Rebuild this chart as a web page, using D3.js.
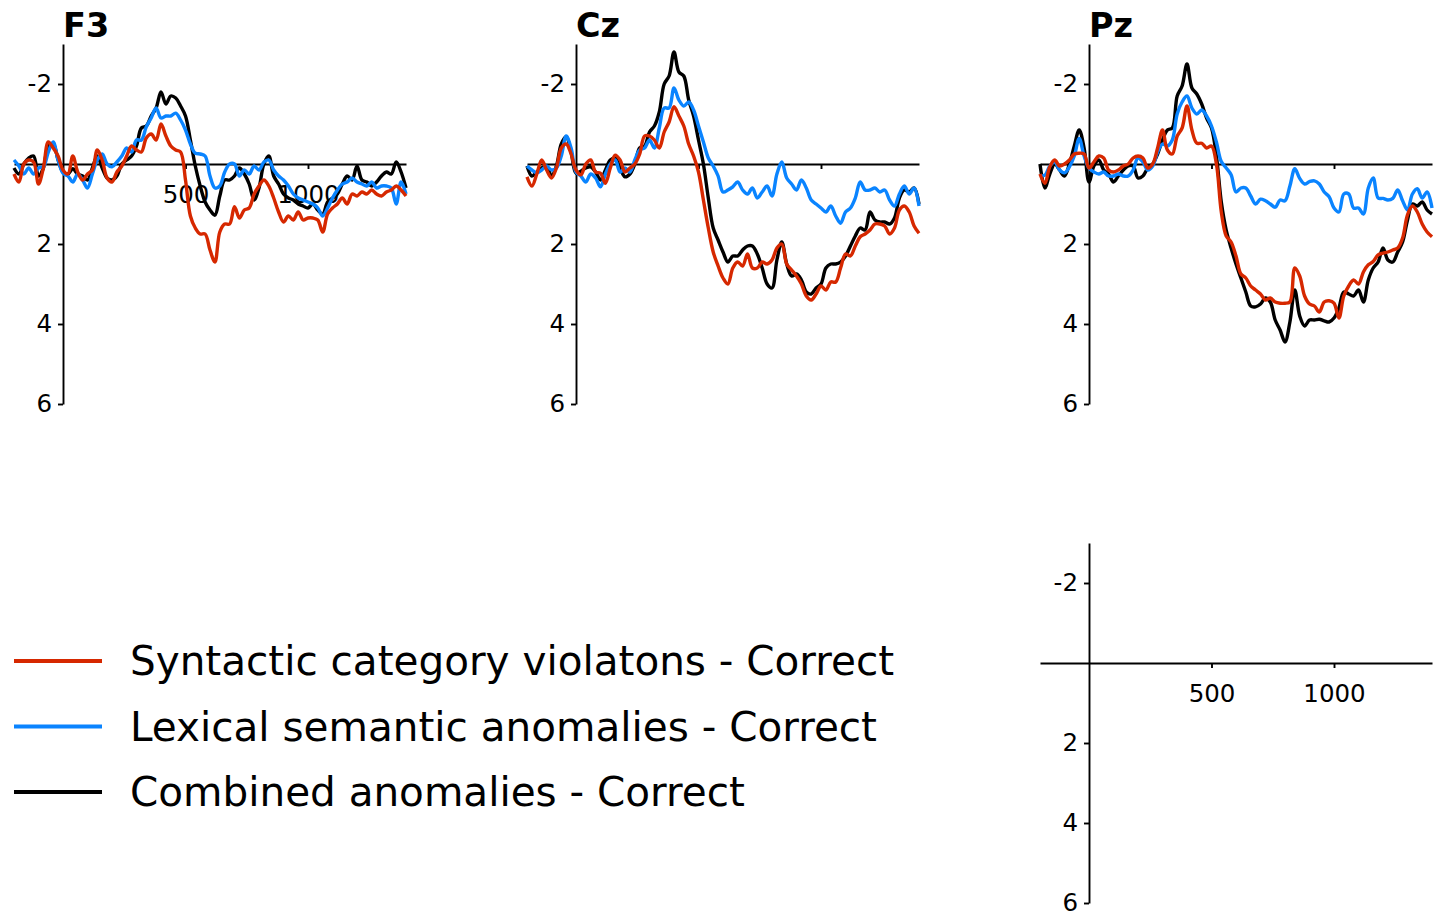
<!DOCTYPE html>
<html>
<head>
<meta charset="utf-8">
<script src="https://cdn.jsdelivr.net/npm/d3@7"></script>
<style>
  body { margin: 0; background: #fff; }
  svg { display: block; font-family: "DejaVu Sans", sans-serif; }
</style>
</head>
<body>
<div id="chart"></div>
<script>
// ERP difference waves (µV, negative up), one sample every 20 ms
const times = d3.range(-200, 1401, 20);

const f3Syntactic = [
  0.25, 0.45, 0.0, -0.1, -0.05, 0.5, 0.1, -0.55, -0.4, -0.2,
  0.15, 0.25, -0.2, 0.2, 0.4, 0.25, 0.15, -0.35, -0.1, 0.35,
  0.45, 0.2, 0.05, -0.2, -0.45, -0.35, -0.3, -0.65, -0.75, -0.6,
  -1.0, -0.7, -0.45, -0.35, -0.3, 0.4, 1.3, 1.6, 1.75, 1.75,
  2.15, 2.45, 1.7, 1.5, 1.5, 1.07, 1.35, 1.15, 1.1, 0.75,
  0.55, 0.4, 0.55, 0.85, 1.2, 1.45, 1.3, 1.4, 1.2, 1.4,
  1.35, 1.35, 1.4, 1.7, 1.25, 1.1, 1.0, 0.85, 1.0, 0.75,
  0.8, 0.7, 0.75, 0.65, 0.75, 0.8, 0.7, 0.65, 0.55, 0.65,
  0.8
];
const f3Lexical = [
  -0.1, 0.05, 0.25, 0.1, 0.25, 0.1, 0.07, -0.3, -0.55, -0.1,
  0.23, 0.3, 0.45, 0.25, 0.4, 0.6, 0.25, -0.1, -0.25, 0.0,
  0.07, -0.05, -0.2, -0.4, -0.3, -0.6, -0.6, -0.93, -1.15, -1.4,
  -1.15, -1.2, -1.2, -1.27, -1.1, -0.85, -0.5, -0.27, -0.25, -0.2,
  0.3, 0.6, 0.55, 0.2, 0.0, 0.0, 0.3, 0.15, 0.25, 0.05,
  0.15, -0.05, -0.1, 0.15, 0.3, 0.4, 0.55, 0.75, 0.85, 0.9,
  0.95, 1.0, 1.1, 1.3, 1.1, 0.85, 0.65, 0.5, 0.45, 0.35,
  0.45, 0.5, 0.55, 0.45, 0.6, 0.55, 0.55, 0.6, 1.0, 0.45,
  0.75
];
const f3Combined = [
  0.1, 0.25, 0.0, -0.15, -0.2, 0.3, 0.1, -0.45, -0.5, -0.1,
  0.2, 0.25, 0.12, 0.25, 0.3, 0.4, 0.1, -0.2, 0.1, 0.35,
  0.4, 0.3, 0.0, -0.1, -0.2, -0.45, -0.9, -0.95, -1.2, -1.4,
  -1.8, -1.5, -1.7, -1.65, -1.45, -1.2, -0.6, 0.05, 0.55, 0.95,
  1.15, 1.28, 0.8, 0.4, 0.4, 0.3, 0.1, 0.25, 0.5, 0.9,
  0.6, 0.0, -0.2, 0.3, 0.5, 0.75, 0.85, 0.9, 1.0, 1.05,
  1.1, 1.0, 1.15, 1.25, 0.95, 0.85, 0.75, 0.5, 0.3, 0.4,
  0.05, 0.4, 0.45, 0.55, 0.45, 0.3, 0.2, 0.25, -0.05, 0.2,
  0.6
];

const czSyntactic = [
  0.32, 0.55, 0.25, -0.1, 0.15, 0.35, 0.1, -0.4, -0.5, -0.25,
  0.15, 0.27, 0.0, -0.1, 0.2, 0.23, 0.48, 0.1, -0.22, -0.1,
  0.2, 0.1, 0.0, -0.25, -0.7, -0.7, -0.6, -0.4, -0.8, -1.05,
  -1.43, -1.2, -0.95, -0.5, -0.2, 0.2, 0.9, 1.6, 2.2, 2.55,
  2.85, 3.0, 2.6, 2.45, 2.55, 2.25, 2.6, 2.6, 2.45, 2.5,
  2.4, 2.1, 2.0, 2.5, 2.65, 2.8, 3.0, 3.3, 3.4, 3.25,
  3.05, 3.15, 2.95, 2.95, 2.6, 2.25, 2.3, 2.05, 1.82, 1.75,
  1.65, 1.5, 1.5, 1.55, 1.75, 1.6, 1.15, 1.05, 1.2, 1.55,
  1.73
];
const czLexical = [
  0.05, 0.15, 0.22, 0.15, 0.05, 0.15, 0.1, -0.2, -0.7, -0.4,
  0.2, 0.3, 0.45, 0.25, 0.35, 0.57, 0.25, 0.0, -0.1, 0.2,
  0.1, 0.2, -0.1, -0.35, -0.4, -0.6, -0.4, -0.9, -1.4, -1.4,
  -1.9, -1.6, -1.45, -1.55, -1.35, -0.95, -0.55, -0.15, 0.05, 0.3,
  0.7, 0.65, 0.57, 0.45, 0.65, 0.75, 0.6, 0.85, 0.7, 0.55,
  0.8, 0.25, -0.05, 0.35, 0.5, 0.65, 0.4, 0.6, 0.9, 1.0,
  1.1, 1.2, 1.05, 1.3, 1.48, 1.2, 1.1, 0.85, 0.45, 0.65,
  0.65, 0.6, 0.7, 0.65, 0.9, 1.05, 0.75, 0.55, 0.75, 0.6,
  1.05
];
const czCombined = [
  0.05, 0.3, 0.2, 0.1, 0.05, 0.3, 0.05, -0.5, -0.68, -0.3,
  0.23, 0.18, 0.1, 0.07, 0.2, 0.4, 0.15, -0.1, -0.15, 0.1,
  0.32, 0.25, 0.0, -0.4, -0.45, -0.8, -0.95, -1.3, -2.0, -2.2,
  -2.8, -2.3, -2.2, -1.6, -1.2, -0.6, 0.0, 0.85, 1.6, 1.9,
  2.2, 2.45, 2.3, 2.3, 2.15, 2.05, 2.05, 2.25, 2.6, 3.0,
  3.1, 2.4, 1.95, 2.5, 2.8, 2.75, 2.9, 3.2, 3.25, 3.1,
  3.0, 2.6, 2.5, 2.5, 2.45, 2.3, 2.05, 1.8, 1.6, 1.65,
  1.2, 1.4, 1.45, 1.45, 1.5, 1.35, 0.85, 0.65, 0.7, 0.6,
  1.0
];

const pzSyntactic = [
  0.25, 0.48, 0.07, -0.1, 0.05, 0.0, -0.1, -0.25, -0.27, -0.25,
  0.1, -0.05, -0.2, -0.15, 0.15, 0.2, 0.15, 0.05, 0.0, -0.15,
  -0.2, -0.15, 0.1, 0.0, -0.4, -0.85, -0.35, -0.25, -0.7, -0.9,
  -1.45, -0.85, -0.52, -0.52, -0.4, -0.45, 0.0, 1.2, 1.8, 1.95,
  2.3, 2.75, 2.85, 3.05, 3.15, 3.25, 3.4, 3.35, 3.45, 3.48,
  3.48, 3.45, 2.6, 2.8, 3.3, 3.5, 3.55, 3.7, 3.45, 3.42,
  3.48, 3.85, 3.3, 3.05, 2.9, 3.0, 2.7, 2.52, 2.44, 2.27,
  2.23, 2.2, 2.15, 2.1, 1.85, 1.27, 1.05, 1.2, 1.5, 1.7,
  1.82
];
const pzLexical = [
  0.3, 0.28, 0.05, -0.05, 0.15, 0.22, 0.07, -0.2, -0.64, -0.2,
  0.1, 0.2, 0.25, 0.2, 0.3, 0.3, 0.25, 0.3, 0.3, 0.15,
  -0.15, -0.05, 0.15, 0.05, -0.3, -0.5, -0.45, -0.6, -1.25, -1.55,
  -1.7, -1.4, -1.25, -1.35, -1.2, -0.95, -0.55, -0.06, 0.1, 0.27,
  0.7, 0.6, 0.6, 0.8, 1.0, 0.88, 0.92, 1.0, 1.08, 0.9,
  0.92, 0.55, 0.12, 0.36, 0.5, 0.44, 0.42, 0.5, 0.7, 0.82,
  1.1, 1.2, 0.75, 0.75, 1.1, 1.1, 1.25, 0.6, 0.35, 0.85,
  0.86, 0.9, 0.86, 0.65, 0.92, 1.15, 0.75, 0.62, 0.85, 0.7,
  1.1
];
const pzCombined = [
  0.0, 0.6, 0.25, 0.0, 0.15, 0.3, 0.0, -0.45, -0.85, -0.4,
  0.45, 0.05, -0.1, 0.15, 0.25, 0.45, 0.3, 0.15, 0.05, 0.05,
  0.35, 0.3, 0.1, 0.0, -0.25, -0.6, -0.85, -0.9, -1.7, -1.95,
  -2.5, -1.9, -1.75, -1.5, -1.15, -0.9, -0.2, 0.95, 1.65, 2.1,
  2.5, 2.85, 3.2, 3.55, 3.57, 3.5, 3.35, 3.45, 3.9, 4.15,
  4.45, 3.95, 3.15, 3.8, 4.05, 3.9, 3.9, 3.88, 3.92, 3.95,
  3.85, 3.6, 3.2, 3.25, 3.3, 3.15, 3.45, 2.9, 2.6, 2.45,
  2.1, 2.4, 2.45, 2.2, 1.95, 1.4, 1.0, 1.05, 0.95, 1.15,
  1.25
];

const seriesNames = [
  'Syntactic category violatons - Correct',
  'Lexical semantic anomalies - Correct',
  'Combined anomalies - Correct'
];
const seriesColors = ['#d62800', '#0a84ff', '#000000'];
const yTicks = [-2, 2, 4, 6];
const xTicks = [500, 1000];

const width = 1438, height = 913;
const svg = d3.select('#chart').append('svg')
  .attr('width', width)
  .attr('height', height);

// one ERP panel: x spine at 0 µV, y spine at 0 ms
function drawPanel(opts) {
  const x = d3.scaleLinear().domain([-200, 1400]).range([opts.left, opts.left + 392]);
  const y = d3.scaleLinear().domain([-3, 6]).range([opts.top, opts.top + 360]);
  const g = svg.append('g');

  const xAxis = g.append('g')
    .attr('transform', `translate(0,${y(0)})`)
    .call(d3.axisBottom(x)
      .tickValues(xTicks)
      .tickSize(5)
      .tickSizeOuter(0)
      .tickPadding(17)
      .tickFormat(d => opts.xLabels ? String(d) : ''));

  const yAxis = g.append('g')
    .attr('transform', `translate(${x(0)},0)`)
    .call(d3.axisLeft(y)
      .tickValues(yTicks)
      .tickSize(5)
      .tickSizeOuter(0)
      .tickPadding(6)
      .tickFormat(d => String(d)));

  [xAxis, yAxis].forEach(a => {
    a.select('.domain').attr('stroke', '#000').attr('stroke-width', 1.9);
    a.selectAll('.tick line').attr('stroke', '#000').attr('stroke-width', 1.9);
    a.selectAll('.tick text')
      .attr('fill', '#000')
      .attr('font-size', 24.5)
      .attr('font-family', '"DejaVu Sans", sans-serif');
  });

  if (opts.title) {
    g.append('text')
      .attr('x', x(0))
      .attr('y', opts.top - 7)
      .attr('font-size', 33.5)
      .attr('font-weight', 'bold')
      .text(opts.title);
  }

  const line = d3.line()
    .x((d, i) => x(times[i]))
    .y(d => y(d))
    .curve(d3.curveCatmullRom.alpha(0.5));

  // combined first, syntactic last (red ends on top)
  [2, 1, 0].forEach(k => {
    if (!opts.series) return;
    g.append('path')
      .datum(opts.series[k])
      .attr('fill', 'none')
      .attr('stroke', seriesColors[k])
      .attr('stroke-width', 3.4)
      .attr('stroke-linejoin', 'round')
      .attr('d', line);
  });
}

drawPanel({ title: 'F3', left: 14, top: 44, xLabels: true,
  series: [f3Syntactic, f3Lexical, f3Combined] });
drawPanel({ title: 'Cz', left: 527, top: 44, xLabels: false,
  series: [czSyntactic, czLexical, czCombined] });
drawPanel({ title: 'Pz', left: 1040, top: 44, xLabels: false,
  series: [pzSyntactic, pzLexical, pzCombined] });
drawPanel({ title: null, left: 1040, top: 543, xLabels: true, series: null });

// legend
const legend = svg.append('g').attr('transform', 'translate(14,661)');
seriesNames.forEach((name, i) => {
  const row = legend.append('g').attr('transform', `translate(0,${i * 65.5})`);
  row.append('line')
    .attr('x1', 0).attr('x2', 88)
    .attr('y1', 0).attr('y2', 0)
    .attr('stroke', seriesColors[i])
    .attr('stroke-width', 4);
  row.append('text')
    .attr('x', 116)
    .attr('y', 0)
    .attr('dy', '0.35em')
    .attr('font-size', 40.5)
    .attr('fill', '#000')
    .text(name);
});
</script>
</body>
</html>
